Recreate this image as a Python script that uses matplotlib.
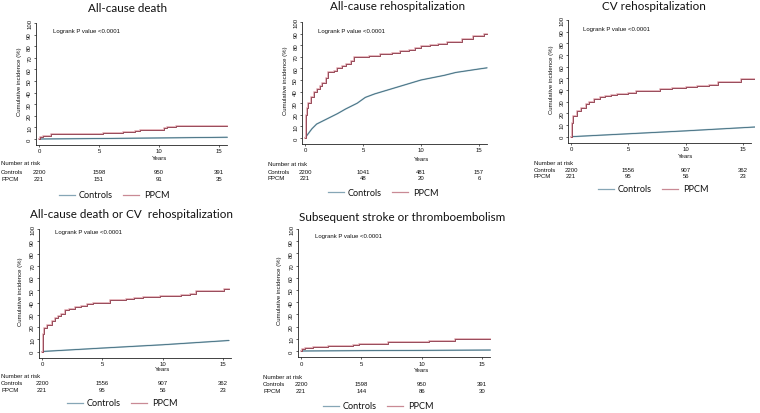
import matplotlib
matplotlib.use("Agg")
import matplotlib.pyplot as plt
from matplotlib.lines import Line2D
from matplotlib.transforms import blended_transform_factory

# ---------------- data ----------------
titles = ["All-cause death", "All-cause rehospitalization", "CV rehospitalization",
          "All-cause death or CV  rehospitalization", "Subsequent stroke or thromboembolism"]
series_names = ["Controls", "PPCM"]
risk_years = [0, 5, 10, 15]

# All-cause death
d1_ppcm_t = [0, 0.05, 0.3, 1.0, 5.2, 5.3, 7.0, 8.0, 8.4, 10.3, 10.4, 10.7, 11.4, 15.7]
d1_ppcm_y = [0, 2, 3, 4, 4, 5.5, 6, 7, 8, 8, 9.5, 10, 11, 11]
d1_ctrl_t = [0, 5, 10, 15.7]
d1_ctrl_y = [0, 0.4, 0.9, 1.5]
d1_risk_ctrl = [2200, 1598, 950, 391]
d1_risk_ppcm = [221, 151, 91, 35]

# All-cause rehospitalization
d2_ppcm_t = [0, 0.05, 0.1, 0.2, 0.3, 0.5, 0.8, 1.0, 1.3, 1.5, 1.8, 2.0, 2.5, 2.8, 3.2, 3.5, 4.0,
             4.2, 5.0, 5.5, 6.5, 7.5, 8.2, 9.0, 9.5, 10.0, 10.8, 11.5, 12.2, 13.5, 14.5, 15.4, 15.7]
d2_ppcm_y = [0, 12, 20, 26, 30, 35, 40, 42, 45, 47, 52, 57, 58, 60, 62, 64, 66,
             69.5, 70, 71, 72, 73, 75, 76, 78, 79.5, 80, 81, 83, 85, 88, 90, 90]
d2_ctrl_t = [0, 0.3, 0.6, 1.0, 2.0, 2.8, 3.5, 4.5, 5.2, 6.0, 7.0, 8.0, 9.0, 10.0, 11.0, 12.0, 13.0, 14.0, 15.0, 15.7]
d2_ctrl_y = [0, 4, 8, 12, 17, 21, 25, 30, 35, 38, 41, 44, 47, 50, 52, 54, 56.5, 58, 59.5, 60.5]
d2_risk_ctrl = [2200, 1041, 481, 157]
d2_risk_ppcm = [221, 48, 20, 6]

# CV rehospitalization
d3_ppcm_t = [0, 0.05, 0.2, 0.5, 0.9, 1.3, 1.6, 2.0, 2.5, 3.0, 3.5, 4.0, 5.0, 5.7, 7.0, 7.8,
             8.8, 10.0, 11.0, 12.0, 12.8, 14.8, 16.4]
d3_ppcm_y = [0, 12, 18, 22, 25, 28, 30, 32.5, 34, 35, 36, 37, 37.5, 39, 39.5, 41,
             42, 42.5, 43.5, 44.5, 47, 49.5, 49.5]
d3_ctrl_t = [0, 5, 10, 16.4]
d3_ctrl_y = [0, 2.5, 5, 8.5]
d3_risk_ctrl = [2200, 1556, 907, 362]
d3_risk_ppcm = [221, 95, 56, 23]

# All-cause death or CV rehospitalization
d4_ppcm_t = [0, 0.05, 0.2, 0.4, 0.8, 1.1, 1.3, 1.6, 1.9, 2.2, 2.7, 3.2, 3.7, 4.2, 5.0, 5.6,
             7.0, 7.6, 8.4, 9.8, 10.5, 11.5, 12.3, 12.8, 15.1, 15.5]
d4_ppcm_y = [0, 14, 19, 22, 25, 27, 29, 31, 34, 35, 36, 37.5, 38.5, 39.5, 40, 42,
             42.5, 43.5, 44.5, 45, 45.5, 46.5, 47, 49, 51, 51]
d4_ctrl_t = [0, 5, 10, 15.5]
d4_ctrl_y = [0, 2.8, 5.5, 9]
d4_risk_ctrl = [2200, 1556, 907, 362]
d4_risk_ppcm = [221, 95, 56, 23]

# Subsequent stroke or thromboembolism
d5_ppcm_t = [0, 0.1, 0.3, 1.0, 1.8, 2.2, 2.7, 4.3, 4.8, 5.1, 7.0, 7.2, 7.5, 10.6, 11.0, 12.8, 15.7]
d5_ppcm_y = [0, 1.5, 2.5, 3, 3.5, 4, 4.5, 5, 5.5, 6, 6, 7, 7.5, 8, 8.5, 10, 10]
d5_ctrl_t = [0, 5, 10, 15.7]
d5_ctrl_y = [0, 0.3, 0.5, 0.8]
d5_risk_ctrl = [2200, 1598, 950, 391]
d5_risk_ppcm = [221, 144, 86, 30]

panels_data = [
    (d1_ctrl_t, d1_ctrl_y, d1_ppcm_t, d1_ppcm_y, d1_risk_ctrl, d1_risk_ppcm),
    (d2_ctrl_t, d2_ctrl_y, d2_ppcm_t, d2_ppcm_y, d2_risk_ctrl, d2_risk_ppcm),
    (d3_ctrl_t, d3_ctrl_y, d3_ppcm_t, d3_ppcm_y, d3_risk_ctrl, d3_risk_ppcm),
    (d4_ctrl_t, d4_ctrl_y, d4_ppcm_t, d4_ppcm_y, d4_risk_ctrl, d4_risk_ppcm),
    (d5_ctrl_t, d5_ctrl_y, d5_ppcm_t, d5_ppcm_y, d5_risk_ctrl, d5_risk_ppcm),
]

# ---------------- layout (pixels from top-left) ----------------
W, H = 760, 414
geom = [
    dict(x0=39, ppy=12.0, y0=140, y100=24, title=(128, 8), logrank=(53, 31), ylab=20,
         rows=(164, 172, 180), rowx=1, years=159, legend=(113, 196)),
    dict(x0=305, ppy=11.6, y0=139, y100=23, title=(398, 7), logrank=(318, 31), ylab=286,
         rows=(165, 172, 179), rowx=268, years=159.5, legend=(382, 193)),
    dict(x0=571, ppy=11.47, y0=137.7, y100=21, title=(654, 7), logrank=(583, 29), ylab=551,
         rows=(164, 171, 177), rowx=534, years=156.5, legend=(652, 190)),
    dict(x0=42, ppy=12.07, y0=352.5, y100=230, title=(132, 215), logrank=(55, 233), ylab=21,
         rows=(377, 384, 391), rowx=1, years=370, legend=(121, 404)),
    dict(x0=301, ppy=12.07, y0=352, y100=230, title=(402, 218), logrank=(315, 237), ylab=280,
         rows=(378, 385, 392), rowx=263, years=370.5, legend=(377, 407)),
]

XMIN, XMAX = -0.28, 16.0
YMIN, YMAX = -5.0, 101.0

ctrl_dark, ctrl_light = "#3e6a7c", "#b3cad4"
ppcm_dark, ppcm_light = "#8c3a4a", "#e4b2b9"
leg_ctrl, leg_ppcm = "#86a6b6", "#c98a95"
axis_col = "#222222"
small = 4.3
sans = ["Liberation Sans", "DejaVu Sans"]
title_font = ["Lato", "DejaVu Sans"]

fig = plt.figure(figsize=(W / 100, H / 100), dpi=100)
fig.patch.set_facecolor("white")


def fx(px):
    return px / W


def fy(py):
    return 1 - py / H


for i, g in enumerate(geom):
    ct, cy, pt, py_, rc, rp = panels_data[i]
    ppp = (g["y0"] - g["y100"]) / 100.0
    left = g["x0"] + XMIN * g["ppy"]
    right = g["x0"] + XMAX * g["ppy"]
    top = g["y0"] - YMAX * ppp
    bottom = g["y0"] - YMIN * ppp
    ax = fig.add_axes([fx(left), fy(bottom), fx(right - left), (bottom - top) / H])
    ax.set_xlim(XMIN, XMAX)
    ax.set_ylim(YMIN, YMAX)
    ax.patch.set_alpha(0)
    for s in ["top", "right"]:
        ax.spines[s].set_visible(False)
    for s in ["left", "bottom"]:
        ax.spines[s].set_linewidth(0.6)
        ax.spines[s].set_color(axis_col)
    ax.spines["left"].set_bounds(YMIN, 100)
    ax.spines["bottom"].set_bounds(XMIN, 15.7)
    ax.set_xticks(risk_years)
    ax.set_yticks(range(0, 101, 10))
    ax.tick_params(axis="both", labelsize=small, length=1.6, width=0.5, color=axis_col,
                   pad=0.9, labelcolor="#111111")
    ax.tick_params(axis="y", labelrotation=90)
    for lab in ax.get_yticklabels():
        lab.set_va("center")
        lab.set_family(sans)
    for lab in ax.get_xticklabels():
        lab.set_family(sans)

    ax.plot(ct, cy, color=ctrl_light, lw=1.2, solid_capstyle="butt")
    ax.plot(ct, cy, color=ctrl_dark, lw=0.6)
    ax.plot(pt, py_, color=ppcm_light, lw=1.3, drawstyle="steps-post")
    ax.plot(pt, py_, color=ppcm_dark, lw=0.6, drawstyle="steps-post")

    fig.text(fx(g["title"][0]), fy(g["title"][1]), titles[i], ha="center", va="center",
             fontsize=8.4, family=title_font, color="#111111")
    fig.text(fx(g["logrank"][0]), fy(g["logrank"][1]), "Logrank P value <0.0001",
             ha="left", va="center", fontsize=small, family=sans, color="#111111")
    fig.text(fx(g["ylab"]), fy((g["y0"] + g["y100"]) / 2), "Cumulative incidence (%)",
             rotation=90, ha="center", va="center", fontsize=small, family=sans, color="#111111")
    tr = blended_transform_factory(ax.transData, fig.transFigure)
    fig.text(10, fy(g["years"]), "Years", transform=tr, ha="center", va="center",
             fontsize=small, family=sans, color="#111111")
    r0, r1, r2 = g["rows"]
    fig.text(fx(g["rowx"]), fy(r0), "Number at risk", ha="left", va="center",
             fontsize=small, family=sans, color="#111111")
    fig.text(fx(g["rowx"]), fy(r1), series_names[0], ha="left", va="center",
             fontsize=small, family=sans, color="#111111")
    fig.text(fx(g["rowx"]), fy(r2), series_names[1], ha="left", va="center",
             fontsize=small, family=sans, color="#111111")
    for yr, a, b in zip(risk_years, rc, rp):
        fig.text(yr, fy(r1), str(a), transform=tr, ha="center", va="center",
                 fontsize=small, family=sans, color="#111111")
        fig.text(yr, fy(r2), str(b), transform=tr, ha="center", va="center",
                 fontsize=small, family=sans, color="#111111")
    c, ly = g["legend"]
    fig.add_artist(Line2D([fx(c - 54), fx(c - 38)], [fy(ly), fy(ly)], color=leg_ctrl, lw=0.9))
    fig.text(fx(c - 34), fy(ly), series_names[0], ha="left", va="center", fontsize=6.6,
             family=title_font, color="#111111")
    fig.add_artist(Line2D([fx(c + 10), fx(c + 26)], [fy(ly), fy(ly)], color=leg_ppcm, lw=0.9))
    fig.text(fx(c + 31), fy(ly), series_names[1], ha="left", va="center", fontsize=6.6,
             family=title_font, color="#111111")

fig.savefig("out.png", dpi=100, facecolor="white")
